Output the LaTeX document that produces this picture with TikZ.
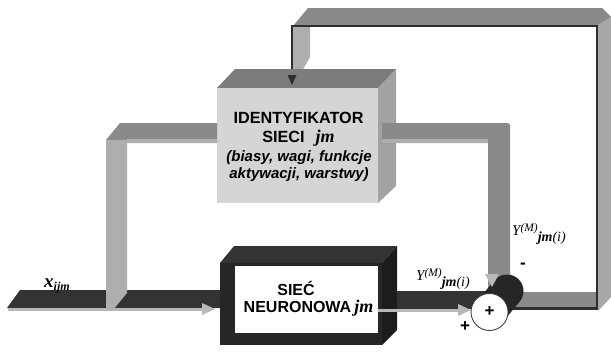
\documentclass[tikz,border=0pt]{standalone}
\usepackage{fontspec}
\setmainfont{Liberation Serif}
\setsansfont{Liberation Sans}
\usetikzlibrary{calc}
\definecolor{idfront}{HTML}{D5D5D5}
\definecolor{idtop}{HTML}{7C7C7C}
\definecolor{idside}{HTML}{A2A2A2}
\definecolor{nndark}{HTML}{262626}
\definecolor{nntop}{HTML}{333333}
\definecolor{nnside}{HTML}{1C1C1C}
\definecolor{pipetop}{HTML}{8A8A8A}
\definecolor{pipelight}{HTML}{AEAEAE}
\definecolor{pipeside}{HTML}{A8A8A8}
\definecolor{arrowlight}{HTML}{B8B8B8}
\definecolor{edgedark}{HTML}{2E2E2E}
\newcommand\jmfont{\rmfamily\bfseries\itshape\fontsize{18}{18}\selectfont}
\newcommand\YMlabel{{\fontsize{15}{15}\selectfont\itshape Y}\raisebox{4pt}{\fontsize{11.5}{11.5}\selectfont\itshape (M)}\raisebox{-6.5pt}{\fontsize{14}{14}\selectfont\itshape{\bfseries jm}(i)}}
\begin{document}
\begin{tikzpicture}[x=1pt,y=-1pt,
  idtext/.style={font=\sffamily\bfseries\fontsize{16.2}{16.2}\selectfont, inner sep=0pt, anchor=base},
  iditext/.style={font=\sffamily\bfseries\itshape\fontsize{15}{15}\selectfont, inner sep=0pt, anchor=base},
  nntext/.style={font=\sffamily\bfseries\fontsize{16}{16}\selectfont, inner sep=0pt, anchor=base},
  signtext/.style={font=\sffamily\bfseries\fontsize{17}{17}\selectfont, inner sep=0pt},
  lab/.style={inner sep=0pt, anchor=base west},
  lightline/.style={draw=arrowlight, line width=3pt},
  darkedge/.style={draw=edgedark, line width=2.2pt}]
\useasboundingbox[fill=white] (0,0) rectangle (611,354);

% ---------- feedback loop: sum -> right -> top -> identifier ----------
\coordinate (fbtip) at (292,85);
\fill[pipetop] (293,26) -- (308,8) -- (602,8) -- (611,17) -- (597,26) -- cycle;
\fill[pipeside] (597,26) -- (611,17) -- (611,297) -- (599,310) -- (597,310) -- cycle;
\fill[pipelight] (292,26) -- (310,26) -- (310,57) -- (297,80) -- (292,80) -- cycle;
\fill[pipetop] (500,292) rectangle (597,307);
\draw[darkedge] (500,308.5) -- (598,308.5);
\draw[darkedge] (292,76) -- (292,26) -- (597,26) -- (597,309);

% ---------- identifier block ----------
\fill[idtop] (217,88) -- (235,69) -- (396,69) -- (378,88) -- cycle;
\fill[idside] (378,88) -- (396,69) -- (396,186) -- (378,203) -- cycle;
\fill[idfront] (217,88) rectangle (378,203);
\fill[edgedark] (287.5,75) -- (296.5,75) -- (fbtip) -- cycle;

% ---------- input -> identifier pipe ----------
\fill[pipetop] (106,140) -- (120,123) -- (217,123) -- (217,143) -- (127,143) -- (127,140) -- cycle;
\fill[pipelight] (127,139) rectangle (217,143);

% ---------- identifier -> sum pipe ----------
\fill[pipetop] (382,123) -- (508,123) -- (510,125) -- (510,278) -- (500,288) -- (488,288) -- (488,143) -- (382,143) -- cycle;
\fill[pipelight] (382,139) rectangle (488,143);

% ---------- input bar ----------
\coordinate (inleft) at (8,309);
\coordinate (intip) at (215,309);
\fill[nntop] (7,308) -- (20,290) -- (222,290) -- (222,308) -- cycle;
\draw[lightline] (inleft) -- (204,309);
\fill[arrowlight] (202,303) -- (intip) -- (202,315) -- cycle;
\fill[pipelight] (106,140) -- (127,140) -- (127,293) -- (113,310) -- (106,310) -- cycle;

% ---------- neural network block ----------
\fill[nntop] (220,263) -- (234,246) -- (397,246) -- (382,263) -- cycle;
\fill[nnside] (382,263) -- (397,246) -- (397,330) -- (382,345) -- cycle;
\fill[nndark] (220,263) rectangle (382,345);
\fill[white] (235,265.5) rectangle (378,333);

% ---------- network output bar ----------
\coordinate (outtip) at (471,310);
\fill[nntop] (397,291) rectangle (486,309);
\draw[lightline] (378,310) -- (460,310);
\fill[arrowlight] (458,304) -- (outtip) -- (458,316) -- cycle;

% ---------- summing junction ----------
\coordinate (sumc) at (489.5,312);
\coordinate (sumback) at (507,291);
\fill[nndark] (sumback) circle[radius=16.5];
\fill[nndark] ($(sumc)+(12.5,10.8)$) -- ($(sumback)+(12.5,10.8)$) -- ($(sumback)+(-12.5,-10.8)$) -- ($(sumc)+(-12.5,-10.8)$) -- cycle;
\fill[arrowlight] (485,274) -- (499,274) -- (492,287) -- cycle;
\node[circle, draw=black!75, line width=0.9pt, fill=white, minimum size=37pt, inner sep=0pt] (sum) at (sumc) {};
\node[signtext] (plusin) at (489.5,312) {+};
\node[signtext] (plusout) at (465,327) {+};
\node[signtext] (minus) at (523,266) {-};

% ---------- texts ----------
\node[idtext] (id1) at (298.5,123) {IDENTYFIKATOR};
\node[idtext] (id2) at (298.5,142) {SIECI\hspace{11pt}{\jmfont jm}};
\node[iditext] (id3) at (299,161) {(biasy, wagi, funkcje};
\node[iditext] (id4) at (299,178.5) {aktywacji, warstwy)};
\node[nntext] (nn1) at (296,295) {SIEĆ};
\node[nntext] (nn2) at (297.5,312) {NEURONOWA\rlap{\hspace{3pt}\jmfont jm}};
\node[lab] (xlab) at (44,287) {\bfseries\itshape\fontsize{19}{19}\selectfont x\raisebox{-3pt}{\fontsize{12}{12}\selectfont ijm}};
\node[lab] (ynet) at (416,280) {\YMlabel};
\node[lab] (yref) at (512,235) {\YMlabel};
\end{tikzpicture}
\end{document}
